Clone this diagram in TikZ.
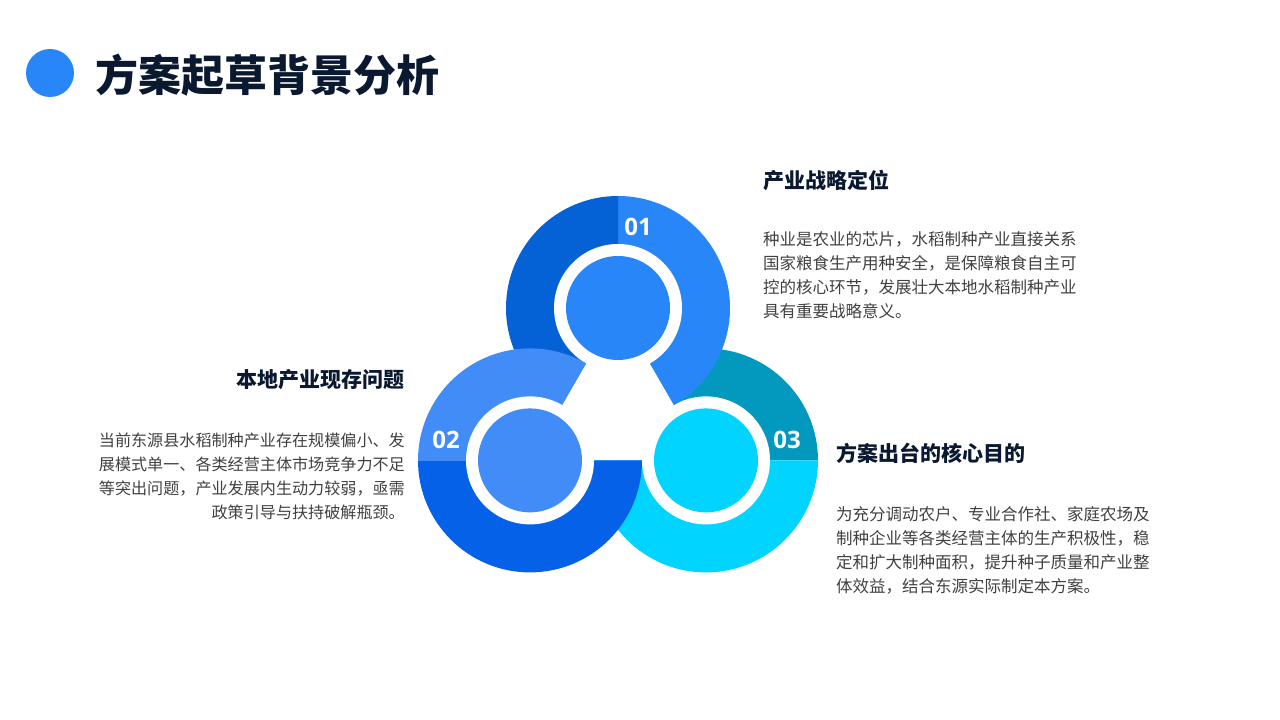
\documentclass[tikz,border=0pt]{standalone}
\usepackage{fontspec}
\setmainfont{Noto Sans CJK SC}
\newfontfamily\numfont{Open Sans}
\usetikzlibrary{positioning}
\definecolor{titlenavy}{RGB}{10, 25, 48}
\definecolor{bodygray}{RGB}{64, 64, 64}
\definecolor{brightblue}{RGB}{41, 134, 248}
\definecolor{deepblue}{RGB}{5, 97, 214}
\definecolor{softblue}{RGB}{66, 140, 247}
\definecolor{royalblue}{RGB}{5, 97, 232}
\definecolor{tealblue}{RGB}{3, 153, 190}
\definecolor{skycyan}{RGB}{0, 212, 255}

% one coloured sector of a ring: colour, centre, start, end
\newcommand{\ringpart}[4]{\fill[#1] (#2) -- ++(#3:112pt) arc[start angle=#3, end angle=#4, radius=112pt] -- cycle;}

\begin{document}
\begin{tikzpicture}[
	x=1pt, y=1pt,
	% text styles
	titletext/.style={
			anchor=west,
			inner sep=0pt,
			font=\fontsize{43}{50}\selectfont\bfseries,
			text=titlenavy
		},
	headtext/.style={
			inner sep=0pt,
			font=\fontsize{21}{26}\selectfont\bfseries,
			text=titlenavy
		},
	bodytext/.style={
			inner sep=0pt,
			font=\fontsize{16.5}{24}\selectfont,
			text=bodygray
		},
	numtext/.style={
			inner sep=0pt,
			font=\numfont\fontsize{24}{28}\selectfont\bfseries,
			text=white
		},
	% ring styles
	gapdisc/.style={fill=white},
	]
	\useasboundingbox (0,0) rectangle (1280,720);

	% Title
	\fill[brightblue] (50,647) circle[radius=24pt];
	\node[titletext] (title) at (95,645) {方案起草背景分析};

	% Ring centres
	\coordinate (c1) at (618,412);
	\coordinate (c2) at (530,259.6);
	\coordinate (c3) at (706,259.6);

	% Ring 03 (lowest layer)
	\ringpart{tealblue}{c3}{0}{120}
	\ringpart{skycyan}{c3}{180}{360}
	\fill[gapdisc] (c3) circle[radius=64pt];
	\fill[skycyan] (c3) circle[radius=52pt];

	% Ring 01
	\ringpart{brightblue}{c1}{-60}{90}
	\ringpart{deepblue}{c1}{90}{240}
	\fill[gapdisc] (c1) circle[radius=64pt];
	\fill[brightblue] (c1) circle[radius=52pt];

	% Ring 02 (top layer)
	\ringpart{softblue}{c2}{60}{180}
	\ringpart{royalblue}{c2}{180}{360}
	\fill[gapdisc] (c2) circle[radius=64pt];
	\fill[softblue] (c2) circle[radius=52pt];

	% Numbers on the rings
	\node[numtext] (num1) at (638,493) {01};
	\node[numtext] (num2) at (446,280) {02};
	\node[numtext] (num3) at (787,280) {03};

	% Text blocks
	\node[headtext, anchor=west] (head1) at (763,540) {产业战略定位};
	\node[bodytext, anchor=north west, align=left] (body1) at (763,488.6)
	{种业是农业的芯片，水稻制种产业直接关系\\
		国家粮食生产用种安全，是保障粮食自主可\\
		控的核心环节，发展壮大本地水稻制种产业\\
		具有重要战略意义。};

	\node[headtext, anchor=east] (head2) at (405,340) {本地产业现存问题};
	\node[bodytext, anchor=north east, align=right, font=\fontsize{16.1}{24}\selectfont] (body2) at (405,287.6)
	{当前东源县水稻制种产业存在规模偏小、发\\
		展模式单一、各类经营主体市场竞争力不足\\
		等突出问题，产业发展内生动力较弱，亟需\\
		政策引导与扶持破解瓶颈。};

	\node[headtext, anchor=west] (head3) at (836,267) {方案出台的核心目的};
	\node[bodytext, anchor=north west, align=left] (body3) at (836,213.6)
	{为充分调动农户、专业合作社、家庭农场及\\
		制种企业等各类经营主体的生产积极性，稳\\
		定和扩大制种面积，提升种子质量和产业整\\
		体效益，结合东源实际制定本方案。};

\end{tikzpicture}
\end{document}
